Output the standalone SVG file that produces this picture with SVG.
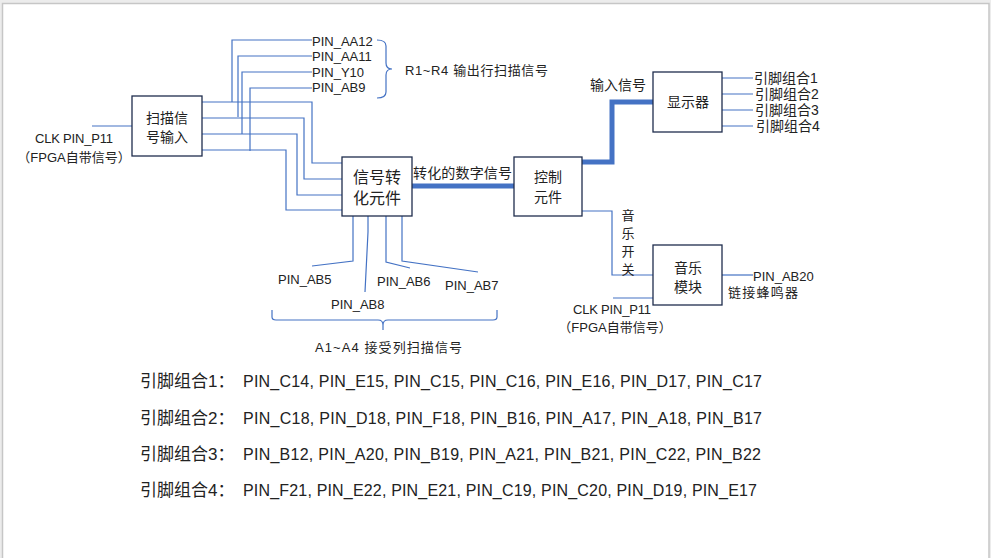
<svg xmlns="http://www.w3.org/2000/svg" width="991" height="558" viewBox="0 0 991 558">
<style>
text{font-family:"Liberation Sans","Noto Sans CJK SC",sans-serif;fill:#222;dominant-baseline:central}
.s13{font-size:13px}
.s14{font-size:14px}
.s16{font-size:16px}
.s17{font-size:17px}
.mid{text-anchor:middle}
.box{fill:#fff;stroke:#1f2d4d;stroke-width:1.3}
.ln{fill:none;stroke:#4472c4;stroke-width:1.2}
.thick{fill:none;stroke:#4472c4;stroke-width:5}
</style>
<rect x="0" y="0" width="991" height="558" fill="#ececec"/>
<rect x="2.5" y="3.5" width="986.5" height="560" fill="#fff" stroke="#c6c6c6" stroke-width="1.5"/>

<g id="connectors">
  <path class="ln" d="M92,126 H132"/>
  <path class="ln" d="M202,102 H312 V163 H342"/>
  <path class="ln" d="M202,118 H304 V179 H342"/>
  <path class="ln" d="M202,134 H297 V195 H342"/>
  <path class="ln" d="M202,150 H286 V210 H342"/>
  <path class="ln" d="M232,102 V40 H312"/>
  <path class="ln" d="M238,117 V56 H312"/>
  <path class="ln" d="M242,134 V72 H312"/>
  <path class="ln" d="M250,151 V88 H312"/>
  <path class="ln" d="M377,40 Q386,40 386,46 V63 Q386,69 392,69 Q386,69 386,75 V92 Q386,98 377,98"/>
  <path class="thick" d="M412,186 H514"/>
  <path class="thick" d="M582,162 H612 V102 H653"/>
  <path class="ln" d="M722,78 H753 M722,94 H753 M722,110 H753 M722,126 H753"/>
  <path class="ln" d="M582,211 H612 V275 H653"/>
  <path class="ln" d="M613,298 H653"/>
  <path class="ln" d="M722,275 H753"/>
  <path class="ln" d="M353,216 V261 L312,266"/>
  <path class="ln" d="M368,216 V232 L365,292"/>
  <path class="ln" d="M386,216 V262 L410,268"/>
  <path class="ln" d="M402,216 V261 L478,272"/>
  <path class="ln" d="M272,310 V317 Q272,320 276,320 H378 Q383,320 383,325 V330 M383,325 Q383,320 388,320 H493 Q497,320 497,317 V310"/>
</g>

<g id="scan-input">
  <rect class="box" x="132" y="96" width="70" height="60"/>
  <text class="s14 mid" x="167" y="118">扫描信</text>
  <text class="s14 mid" x="167" y="137">号输入</text>
</g>
<g id="clk-left">
  <text class="s13" x="35" y="138" textLength="78">CLK PIN_P11</text>
  <text class="s13 mid" x="74" y="157">（FPGA自带信号）</text>
</g>
<g id="row-pins">
  <text class="s13" x="312" y="41">PIN_AA12</text>
  <text class="s13" x="312" y="56">PIN_AA11</text>
  <text class="s13" x="312" y="72">PIN_Y10</text>
  <text class="s13" x="312" y="87">PIN_AB9</text>
  <text class="s13" x="405" y="70" textLength="143">R1~R4 输出行扫描信号</text>
</g>
<g id="converter">
  <rect class="box" x="342" y="157" width="70" height="59"/>
  <text class="s16 mid" x="377" y="177">信号转</text>
  <text class="s16 mid" x="377" y="198">化元件</text>
</g>
<text class="s14" x="413" y="173" textLength="99">转化的数字信号</text>
<g id="controller">
  <rect class="box" x="514" y="157" width="68" height="59"/>
  <text class="s14 mid" x="548" y="177">控制</text>
  <text class="s14 mid" x="548" y="197">元件</text>
</g>
<text class="s14" x="590" y="85">输入信号</text>
<g id="display">
  <rect class="box" x="653" y="72" width="69" height="60"/>
  <text class="s14 mid" x="688" y="102">显示器</text>
</g>
<g id="display-pins">
  <text class="s14" x="754" y="78">引脚组合1</text>
  <text class="s14" x="755" y="94">引脚组合2</text>
  <text class="s14" x="755" y="110">引脚组合3</text>
  <text class="s14" x="756" y="126">引脚组合4</text>
</g>
<g id="music-switch">
  <text class="s13 mid" x="628" y="215">音</text>
  <text class="s13 mid" x="628" y="233">乐</text>
  <text class="s13 mid" x="628" y="251">开</text>
  <text class="s13 mid" x="628" y="269">关</text>
</g>
<g id="music">
  <rect class="box" x="653" y="245" width="69" height="60"/>
  <text class="s14 mid" x="688" y="268">音乐</text>
  <text class="s14 mid" x="688" y="287">模块</text>
</g>
<g id="clk-music">
  <text class="s13" x="573" y="309" textLength="78">CLK PIN_P11</text>
  <text class="s13 mid" x="615" y="327">（FPGA自带信号）</text>
</g>
<g id="buzzer">
  <text class="s13" x="753" y="276">PIN_AB20</text>
  <text class="s13" x="728" y="292" textLength="70">链接蜂鸣器</text>
</g>
<g id="col-pins">
  <text class="s13" x="278" y="279">PIN_AB5</text>
  <text class="s13" x="331" y="304">PIN_AB8</text>
  <text class="s13" x="377" y="281">PIN_AB6</text>
  <text class="s13" x="445" y="285">PIN_AB7</text>
  <text class="s13" x="315" y="347" textLength="147">A1~A4 接受列扫描信号</text>
</g>
<g id="pin-groups">
  <text class="s17" x="140" y="381">引脚组合1：</text>
  <text class="s16" x="243" y="381" textLength="519">PIN_C14, PIN_E15, PIN_C15, PIN_C16, PIN_E16, PIN_D17, PIN_C17</text>
  <text class="s17" x="140" y="418">引脚组合2：</text>
  <text class="s16" x="243" y="418" textLength="519">PIN_C18, PIN_D18, PIN_F18, PIN_B16, PIN_A17, PIN_A18, PIN_B17</text>
  <text class="s17" x="140" y="454">引脚组合3：</text>
  <text class="s16" x="243" y="454" textLength="518">PIN_B12, PIN_A20, PIN_B19, PIN_A21, PIN_B21, PIN_C22, PIN_B22</text>
  <text class="s17" x="140" y="490">引脚组合4：</text>
  <text class="s16" x="243" y="490" textLength="514">PIN_F21, PIN_E22, PIN_E21, PIN_C19, PIN_C20, PIN_D19, PIN_E17</text>
</g>
</svg>
